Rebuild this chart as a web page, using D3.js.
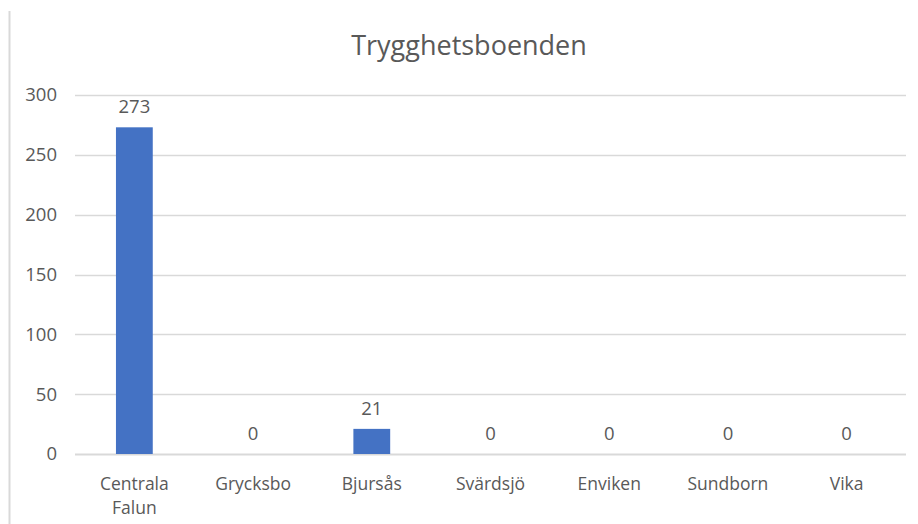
<!doctype html>
<html lang="sv">
<head>
<meta charset="UTF-8">
<title>Trygghetsboenden</title>
<script src="https://cdn.jsdelivr.net/npm/d3@7"></script>
<style>
  body { margin: 0; background: #fff; }
  svg text { font-family: "Open Sans", "Noto Sans", sans-serif; fill: #595959; }
</style>
</head>
<body>
<script>
// data
var categories = ["Centrala Falun", "Grycksbo", "Bjursås", "Svärdsjö", "Enviken", "Sundborn", "Vika"];
var values = [273, 0, 21, 0, 0, 0, 0];
var yTicks = [0, 50, 100, 150, 200, 250, 300];
var title = "Trygghetsboenden";

var W = 918, H = 524;
// plot area (don't call these top/left, window.top is read only)
var plotL = 75, plotR = 906, plotT = 95, plotB = 454;

var svg = d3.select("body").append("svg")
  .attr("width", W).attr("height", H);

// chart frame edge on the left
svg.append("line")
  .attr("x1", 9.5).attr("x2", 9.5).attr("y1", 11).attr("y2", H)
  .attr("stroke", "#d9d9d9").attr("stroke-width", 2);

svg.append("text")
  .attr("x", 469).attr("y", 55)
  .attr("text-anchor", "middle")
  .style("font-size", "27px")
  .text(title);

var x = d3.scaleBand().domain(categories).range([plotL, plotR]).paddingInner(0.69).paddingOuter(0.345);
var y = d3.scaleLinear().domain([0, 300]).range([plotB, plotT]);

// gridlines
svg.append("g").selectAll("line")
  .data(yTicks).enter().append("line")
  .attr("x1", plotL).attr("x2", plotR)
  .attr("y1", function(d) { return Math.round(y(d)) + 0.5; })
  .attr("y2", function(d) { return Math.round(y(d)) + 0.5; })
  .attr("stroke", "#d9d9d9").attr("stroke-width", function(d) { return d === 0 ? 2 : 1.5; });

// y tick labels
svg.append("g").selectAll("text")
  .data(yTicks).enter().append("text")
  .attr("x", 57).attr("y", function(d) { return y(d); })
  .attr("dy", "0.35em")
  .attr("text-anchor", "end")
  .style("font-size", "18.5px")
  .text(function(d) { return d; });

// bars
svg.append("g").selectAll("rect")
  .data(values).enter().append("rect")
  .attr("x", function(d, i) { return x(categories[i]); })
  .attr("width", x.bandwidth())
  .attr("y", function(d) { return y(d); })
  .attr("height", function(d) { return plotB - y(d); })
  .attr("fill", "#4472c4");

// value labels
svg.append("g").selectAll("text")
  .data(values).enter().append("text")
  .attr("x", function(d, i) { return x(categories[i]) + x.bandwidth() / 2; })
  .attr("y", function(d) { return y(d) - 14; })
  .attr("text-anchor", "middle")
  .style("font-size", "18.5px")
  .text(function(d) { return d; });

// category labels, wrapped on spaces
var xc = svg.append("g").selectAll("text")
  .data(categories).enter().append("text")
  .attr("x", function(d) { return x(d) + x.bandwidth() / 2; })
  .attr("y", 490)
  .attr("text-anchor", "middle")
  .style("font-size", "17.5px");
xc.each(function(d) {
  var words = d.split(" ");
  var t = d3.select(this);
  words.forEach(function(w, i) {
    t.append("tspan")
      .attr("x", t.attr("x"))
      .attr("dy", i === 0 ? 0 : 23.5)
      .text(w);
  });
});
</script>
</body>
</html>
